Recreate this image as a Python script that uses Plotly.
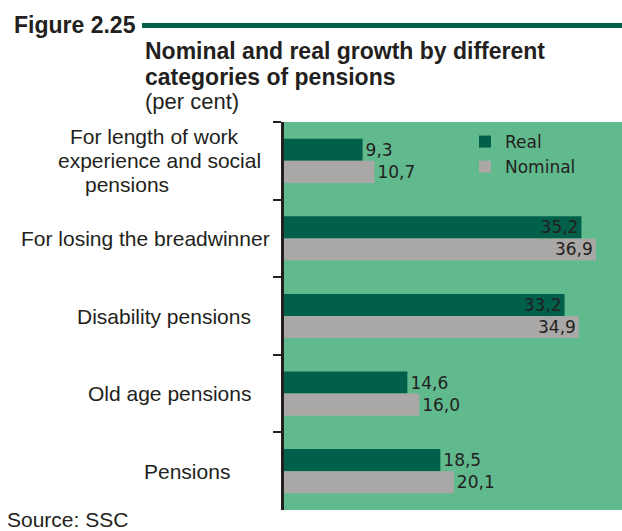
import plotly.graph_objects as go

categories = [
    "For length of work<br>experience and social<br>pensions",
    "For losing the breadwinner",
    "Disability pensions",
    "Old age pensions",
    "Pensions",
]
real = [9.3, 35.2, 33.2, 14.6, 18.5]
nominal = [10.7, 36.9, 34.9, 16.0, 20.1]
series_names = ["Real", "Nominal"]

DARK = "#00604a"
GREY = "#a9a8a6"
BG = "#61b98e"
TXT = "#231f20"

W, H = 622, 531
L, R, T, B = 284, 0, 122, 21
pw, ph = W - L - R, H - T - B


def px(x):
    return (x - L) / pw


def py(y):
    return (H - B - y) / ph


def positions(vals):
    return ["inside" if v > 30 else "outside" for v in vals]


LBL = dict(family="DejaVu Sans", size=17, color=TXT)

fig = go.Figure()
for name, vals, col in [(series_names[0], real, DARK), (series_names[1], nominal, GREY)]:
    fig.add_trace(go.Bar(
        y=categories, x=vals, name=name, orientation="h",
        marker=dict(color=col, line=dict(width=0)),
        texttemplate="%{x:.1f}", textposition=positions(vals),
        insidetextanchor="end", constraintext="none",
        textfont=LBL, insidetextfont=LBL, outsidetextfont=LBL,
        cliponaxis=False,
    ))

fig.update_layout(
    width=W, height=H,
    margin=dict(l=L, r=R, t=T, b=B, pad=0),
    paper_bgcolor="white", plot_bgcolor=BG,
    barmode="group", bargap=0.43, bargroupgap=0,
    separators=",.",
    font=dict(family="Liberation Sans, Arial", color=TXT),
    showlegend=True,
    legend=dict(x=px(465), y=py(124), xanchor="left", yanchor="top",
                bgcolor="rgba(0,0,0,0)", tracegroupgap=0,
                font=LBL, itemsizing="constant"),
    xaxis=dict(range=[0, 40], showgrid=False, zeroline=False, showticklabels=False,
               ticks="", showline=False, fixedrange=True),
    yaxis=dict(autorange="reversed", showgrid=False, zeroline=False,
               showticklabels=False, ticks="outside", tickson="boundaries",
               ticklen=8, tickwidth=1.5, tickcolor=TXT,
               showline=True, linecolor=TXT, linewidth=2.5, fixedrange=True),
)

# category labels
label_cx = [[154, 159, 127], [145], [164], [169], [187]]
LINE_H = 24
for cat, cxs in zip(categories, label_cx):
    lines = cat.split("<br>")
    n = len(lines)
    for i, (line, cx) in enumerate(zip(lines, cxs)):
        fig.add_annotation(x=px(cx), y=cat, xref="paper", yref="y", text=line,
                           showarrow=False, xanchor="center", yanchor="middle",
                           yshift=((n - 1) / 2 - i) * LINE_H,
                           font=dict(family="Liberation Sans, Arial", size=21, color=TXT))

# header
fig.add_annotation(x=px(12), y=py(25), xref="paper", yref="paper", text="<b>Figure 2.25</b>",
                   showarrow=False, xanchor="left", yanchor="middle",
                   font=dict(family="Liberation Sans, Arial", size=23, color=TXT))
fig.add_shape(type="line", xref="paper", yref="paper", x0=px(142), x1=1.0,
              y0=py(25.5), y1=py(25.5), line=dict(color=DARK, width=5))
fig.add_annotation(x=px(143), y=py(51), xref="paper", yref="paper",
                   text="<b>Nominal and real growth by different</b>",
                   showarrow=False, xanchor="left", yanchor="middle",
                   font=dict(family="Liberation Sans, Arial", size=23, color=TXT))
fig.add_annotation(x=px(143), y=py(77), xref="paper", yref="paper",
                   text="<b>categories of pensions</b>",
                   showarrow=False, xanchor="left", yanchor="middle",
                   font=dict(family="Liberation Sans, Arial", size=23, color=TXT))
fig.add_annotation(x=px(143), y=py(102), xref="paper", yref="paper",
                   text="(per cent)",
                   showarrow=False, xanchor="left", yanchor="middle",
                   font=dict(family="Liberation Sans, Arial", size=22, color=TXT))
fig.add_annotation(x=px(5), y=py(519), xref="paper", yref="paper",
                   text="Source: SSC",
                   showarrow=False, xanchor="left", yanchor="middle",
                   font=dict(family="Liberation Sans, Arial", size=21, color=TXT))

fig.write_html("out.html", config={"displayModeBar": False},
               post_script="document.body.style.margin='0px';")
